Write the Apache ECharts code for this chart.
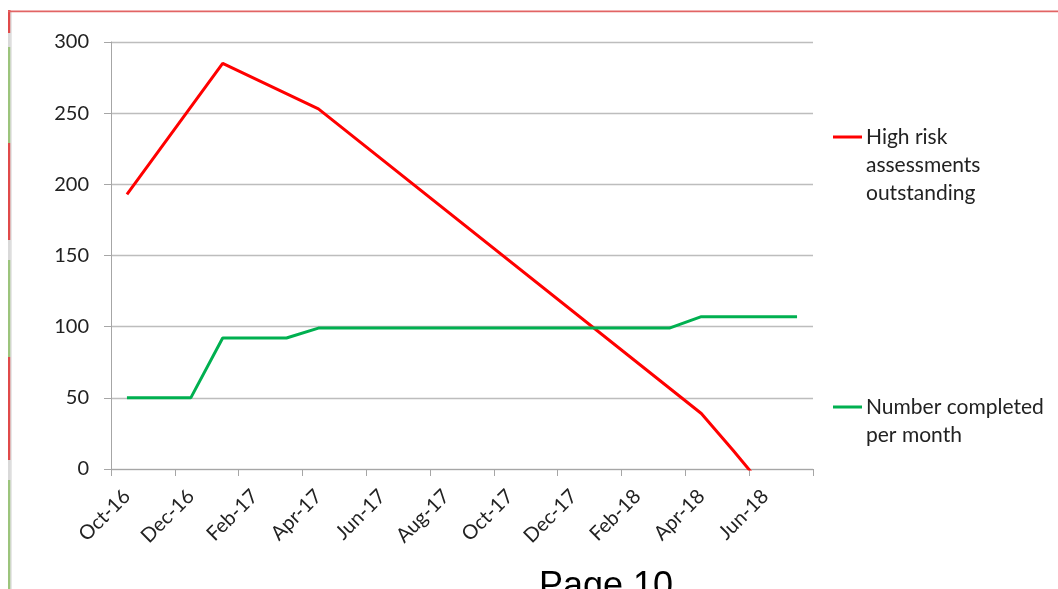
<!DOCTYPE html>
<html>
<head>
<meta charset="utf-8">
<script src="https://cdn.jsdelivr.net/npm/echarts@6/dist/echarts.min.js"></script>
<style>
  html, body { margin: 0; padding: 0; background: #ffffff; }
  #chart { width: 1058px; height: 589px; }
</style>
</head>
<body>
<div id="chart"></div>
<script>
// Monthly categories, Oct 2016 to Jul 2018
const months = ['Oct-16','Nov-16','Dec-16','Jan-17','Feb-17','Mar-17','Apr-17','May-17',
  'Jun-17','Jul-17','Aug-17','Sep-17','Oct-17','Nov-17','Dec-17','Jan-18','Feb-18',
  'Mar-18','Apr-18','May-18','Jun-18','Jul-18'];

// Outstanding high risk assessments (known points; gaps are joined by straight lines)
const outstanding = [193, null, null, 285, null, null, 253, null, null, null, null, null,
  null, null, null, null, null, null, 39, 13, -14, null];

// Assessments completed per month
const completed = [50, 50, 50, 92, 92, 92, 99, 99, 99, 99, 99, 99,
  99, 99, 99, 99, 99, 99, 107, 107, 107, 107];

const yTicks = { min: 0, max: 300, step: 50 };

const seriesNames = ['High risk\nassessments\noutstanding', 'Number completed\nper month'];

const FONT = 'Lato';
const TEXT = '#222222';

// legend line sitting beside the first text line of a wrapped label
function legendLine(h) {
  return 'path://M0,0h0.01v0.01h-0.01z M0,12.5H29V15.5H0Z M0,' + (h - 0.01) + 'h0.01v0.01h-0.01z';
}

const chart = echarts.init(document.getElementById('chart'), null, { renderer: 'canvas' });

// page edge decorations
const edgeSegs = [
  [10, 33, '#e04a4a'], [33, 47, '#d9d9d9'], [47, 143, '#9cc47c'], [143, 240, '#e04a4a'],
  [240, 260, '#d9d9d9'], [260, 357, '#9cc47c'], [357, 460, '#e04a4a'], [460, 480, '#d9d9d9'],
  [480, 589, '#9cc47c']
];
const graphics = edgeSegs.map(s => ({
  type: 'rect', silent: true,
  shape: { x: 8, y: s[0], width: 2.5, height: s[1] - s[0] },
  style: { fill: s[2] }
}));
graphics.push({ type: 'rect', silent: true, shape: { x: 10.5, y: 11, width: 1, height: 578 }, style: { fill: '#cfcfcf' } });
graphics.push({ type: 'rect', silent: true, shape: { x: 8, y: 10.5, width: 1050, height: 1.8 }, style: { fill: '#e26464' } });
graphics.push({
  type: 'text', silent: true, left: 539, top: 569,
  style: { text: 'Page 10', font: '36px "Liberation Sans", Arial, sans-serif', fill: '#000000' }
});

chart.setOption({
  animation: false,
  backgroundColor: '#ffffff',
  textStyle: { fontFamily: FONT },
  graphic: graphics,
  grid: { left: 111, right: 245, top: 42, bottom: 120, containLabel: false },
  legend: [
    {
      data: [seriesNames[0]], left: 833, top: 123, padding: 0, orient: 'vertical',
      itemWidth: 29, itemHeight: 84, icon: legendLine(84),
      itemStyle: { borderWidth: 0 },
      textStyle: { fontFamily: FONT, fontSize: 21, lineHeight: 28, color: TEXT, padding: [0, 0, 0, -1] }
    },
    {
      data: [seriesNames[1]], left: 833, top: 393, padding: 0, orient: 'vertical',
      itemWidth: 29, itemHeight: 56, icon: legendLine(56),
      itemStyle: { borderWidth: 0 },
      textStyle: { fontFamily: FONT, fontSize: 21, lineHeight: 28, color: TEXT, padding: [0, 0, 0, -1] }
    }
  ],
  xAxis: {
    type: 'category',
    data: months,
    boundaryGap: true,
    axisLine: { lineStyle: { color: '#a6a6a6', width: 1 } },
    axisTick: { show: true, interval: 1, length: 7, lineStyle: { color: '#a6a6a6' } },
    axisLabel: { interval: 1, rotate: 45, margin: 24, fontFamily: FONT, fontSize: 20, color: TEXT },
    splitLine: { show: false }
  },
  yAxis: {
    type: 'value',
    min: yTicks.min, max: yTicks.max, interval: yTicks.step,
    axisLine: { show: true, lineStyle: { color: '#a6a6a6', width: 1 } },
    axisTick: { show: true, length: 7, lineStyle: { color: '#a6a6a6' } },
    axisLabel: { margin: 22, fontFamily: FONT, fontSize: 20, color: TEXT },
    splitLine: { show: true, lineStyle: { color: '#bdbdbd', width: 1.3 } }
  },
  series: [
    {
      name: seriesNames[0], type: 'line', data: outstanding, connectNulls: true,
      symbol: 'none', clip: true, color: '#ff0000',
      lineStyle: { color: '#ff0000', width: 3 }
    },
    {
      name: seriesNames[1], type: 'line', data: completed,
      symbol: 'none', clip: true, color: '#00b050',
      lineStyle: { color: '#00b050', width: 3 }
    }
  ]
});
</script>
</body>
</html>
